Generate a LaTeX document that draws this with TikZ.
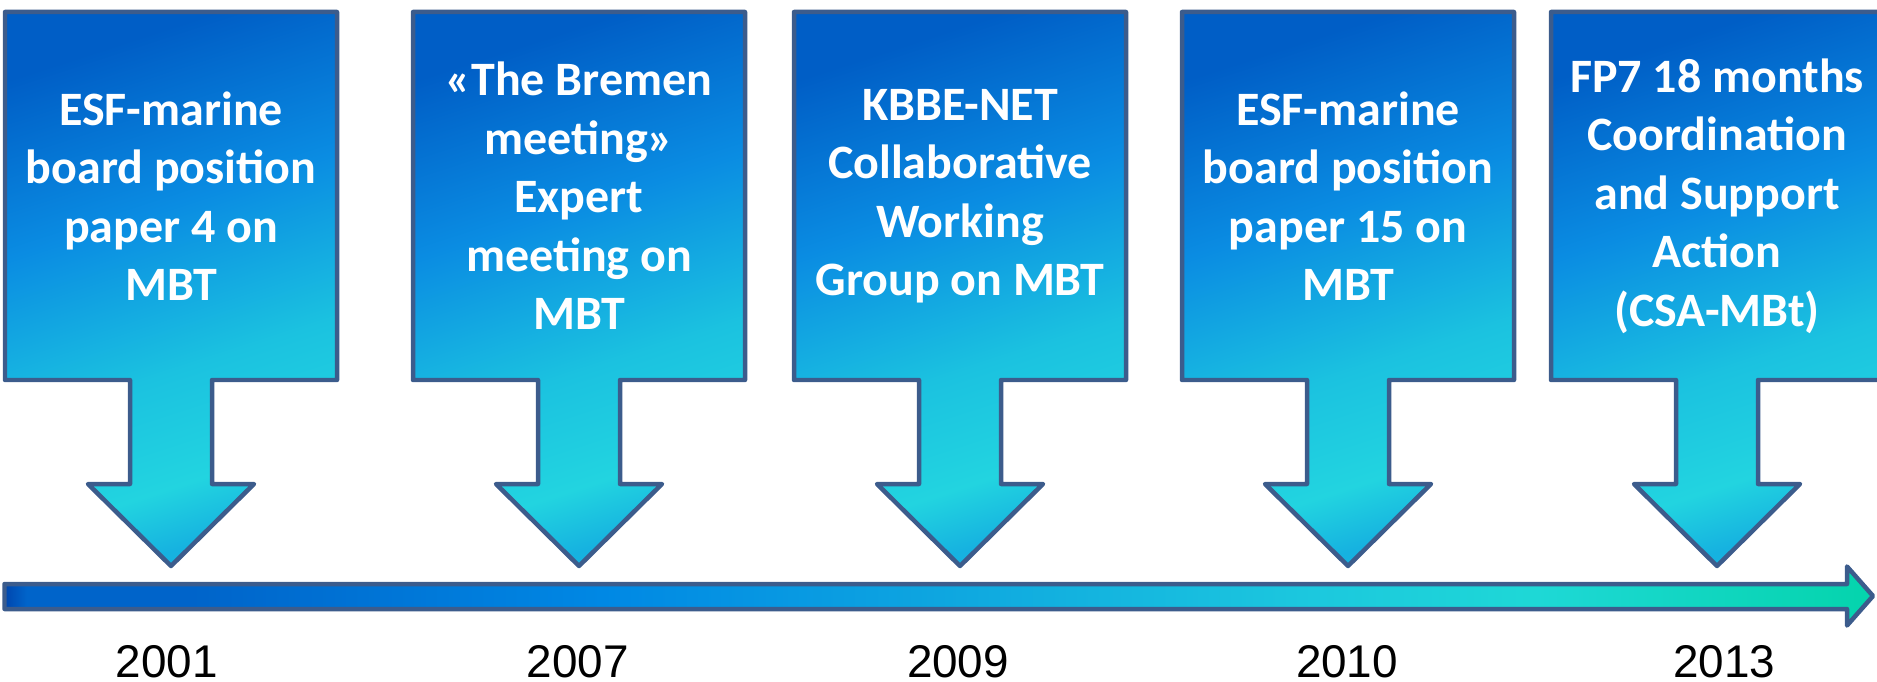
\documentclass[tikz,border=0pt]{standalone}
\usepackage{fontspec}
\setmainfont{Carlito}
\newfontfamily\yearfont{Liberation Sans}
\usepackage{xcolor}
\definecolor{Edge}{HTML}{3C5C8C}
\definecolor{TopBlue}{HTML}{005EC6}
\definecolor{MidBlue}{HTML}{0A8CE2}
\definecolor{LowCyan}{HTML}{1BC2E0}
\definecolor{HeadCyan}{HTML}{22D4E0}
\definecolor{TipBlue}{HTML}{16B2E0}
\definecolor{BarDark}{HTML}{0046AE}
\definecolor{BarBlue}{HTML}{0064CA}
\definecolor{BarMid}{HTML}{0088E4}
\definecolor{BarSky}{HTML}{0EA6E0}
\definecolor{BarCyan}{HTML}{1CC8DE}
\definecolor{BarAqua}{HTML}{1ED8D6}
\definecolor{BarTeal}{HTML}{04D4AC}

% fills: visible range is 25bp..75bp
\pgfdeclareverticalshading{calloutfill}{100bp}{color(0bp)=(TipBlue); color(25bp)=(TipBlue); color(31bp)=(HeadCyan); color(42bp)=(LowCyan); color(58bp)=(MidBlue); color(75bp)=(TopBlue); color(100bp)=(TopBlue)}
\pgfdeclarehorizontalshading{timelinefill}{100bp}{color(0bp)=(BarDark); color(25bp)=(BarDark); color(25.6bp)=(BarBlue); color(30bp)=(BarBlue); color(41bp)=(BarMid); color(50bp)=(BarSky); color(60bp)=(BarCyan); color(66bp)=(BarAqua); color(75bp)=(BarTeal); color(100bp)=(BarTeal)}

\tikzset{
  callout/.style={shading=calloutfill,shading angle=18,draw=Edge,line width=0.09cm,line join=round},
  evtext/.style={align=center,inner sep=0pt,text=white,font=\bfseries\fontsize{27.3}{33.3}\selectfont},
  yeartext/.style={anchor=base,inner sep=0pt,font=\yearfont\fontsize{26.1}{30}\selectfont}
}

\begin{document}
\begin{tikzpicture}[x=0.02cm,y=-0.02cm]
\useasboundingbox (0,0) rectangle (1877,682);
\clip (0,0) rectangle (1877,682);
% time axis
\shadedraw[shading=timelinefill,draw=Edge,line width=0.09cm,line join=round]
  (4.5,584) -- (1847,584) -- (1847,566.5) -- (1873,596) -- (1847,625.5) -- (1847,609) -- (4.5,609) -- cycle;
% callouts, texts and years
\foreach \n/\cx/\yx/\yr/\txt in {
  1/171/167/2001/{ESF-marine\\board position\\paper 4 on\\MBT},
  2/579/578/2007/{«The Bremen\\meeting»\\Expert\\meeting on\\MBT},
  3/960/958/2009/{KBBE-NET\\Collaborative\\Working\\Group on MBT},
  4/1348/1347/2010/{ESF-marine\\board position\\paper 15 on\\MBT},
  5/1717/1724/2013/{FP7 18 months\\Coordination\\and Support\\Action\\(CSA-MBt)}} {
  \shadedraw[callout] (\cx-166,12) -- (\cx+166,12) -- (\cx+166,380) -- (\cx+41,380) -- (\cx+41,484) -- (\cx+83,484)
    -- (\cx,566) -- (\cx-83,484) -- (\cx-41,484) -- (\cx-41,380) -- (\cx-166,380) -- cycle;
  \node[evtext] (ev\n) at (\cx,196) {\txt};
  \node[yeartext] (yr\n) at (\yx,677) {\yr};
}
\end{tikzpicture}
\end{document}
